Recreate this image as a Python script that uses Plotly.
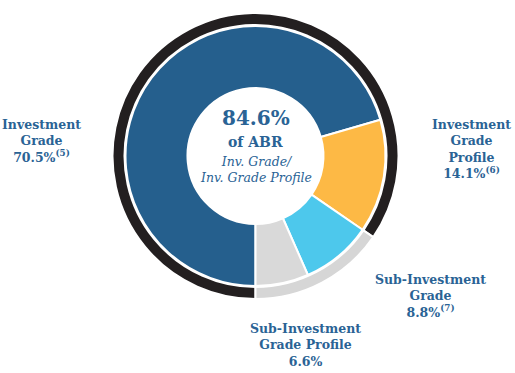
import plotly.graph_objects as go

W, H = 515, 373

categories = ["Investment Grade", "Investment Grade Profile", "Sub-Investment Grade", "Sub-Investment Grade Profile"]
values = [70.5, 14.1, 8.8, 6.6]
notes = ["(5)", "(6)", "(7)", ""]
ring_labels = ["Inv. Grade / Inv. Grade Profile", "Sub-Investment Grade / Profile"]
ring_values = [84.6, 15.4]

slice_colors = ["#255f8d", "#fdb945", "#4dc8ec", "#d9d9d9"]
ring_colors = ["#231f20", "#d6d6d6"]
text_color = "#2a6395"
FONT = "DejaVu Serif"

cx, cy = 255.5, 156.0
R_ring, R_pie = 143.0, 130.0

def dom(r):
    return dict(x=[(cx - r) / W, (cx + r) / W], y=[(H - cy - r) / H, (H - cy + r) / H])

fig = go.Figure()
fig.add_trace(go.Pie(
    labels=ring_labels, values=ring_values, hole=131.0 / R_ring, sort=False,
    direction="clockwise", rotation=180, domain=dom(R_ring),
    marker=dict(colors=ring_colors, line=dict(color="white", width=2)),
    textinfo="none", hoverinfo="skip", showlegend=False))
fig.add_trace(go.Pie(
    labels=categories, values=values, hole=68.0 / R_pie, sort=False,
    direction="clockwise", rotation=180, domain=dom(R_pie),
    marker=dict(colors=slice_colors, line=dict(color="white", width=2)),
    textinfo="none", hoverinfo="skip", showlegend=False))

def fmt(v):
    return f"{v:.1f}%"

def label_text(i, lines):
    pct = fmt(values[i]) + (f"<sup>{notes[i]}</sup>" if notes[i] else "")
    return "<b>" + "<br>".join(lines + [pct]) + "</b>"

labels_layout = [
    (0, ["Investment", "Grade"], 41, 141),
    (1, ["Investment", "Grade", "Profile"], 471, 149),
    (2, ["Sub-Investment", "Grade"], 430, 295.5),
    (3, ["Sub-Investment", "Grade Profile"], 305, 344.5),
]
anns = []
for i, lines, px, py in labels_layout:
    anns.append(dict(text=label_text(i, lines), x=px / W, y=1 - py / H, xref="paper", yref="paper",
                     xanchor="center", yanchor="middle", showarrow=False, align="center",
                     font=dict(family=FONT, size=12.5, color=text_color)))

total_ig = ring_values[0]
anns.append(dict(text=f"<b>{total_ig:.1f}%</b>", x=cx / W, y=1 - 118 / H, xref="paper", yref="paper",
                 xanchor="center", yanchor="middle", showarrow=False,
                 font=dict(family=FONT, size=20, color=text_color)))
anns.append(dict(text="<b>of ABR</b>", x=cx / W, y=1 - 142 / H, xref="paper", yref="paper",
                 xanchor="center", yanchor="middle", showarrow=False,
                 font=dict(family=FONT, size=14, color=text_color)))
anns.append(dict(text="<i>Inv. Grade/<br>Inv. Grade Profile</i>", x=cx / W, y=1 - 169 / H,
                 xref="paper", yref="paper", xanchor="center", yanchor="middle", showarrow=False,
                 font=dict(family=FONT, size=12.5, color=text_color)))

fig.update_layout(width=W, height=H, margin=dict(l=0, r=0, t=0, b=0),
                  paper_bgcolor="white", plot_bgcolor="white", annotations=anns)
fig.write_html("out.html", config={"displayModeBar": False},
               post_script="document.body.style.margin='0';")
